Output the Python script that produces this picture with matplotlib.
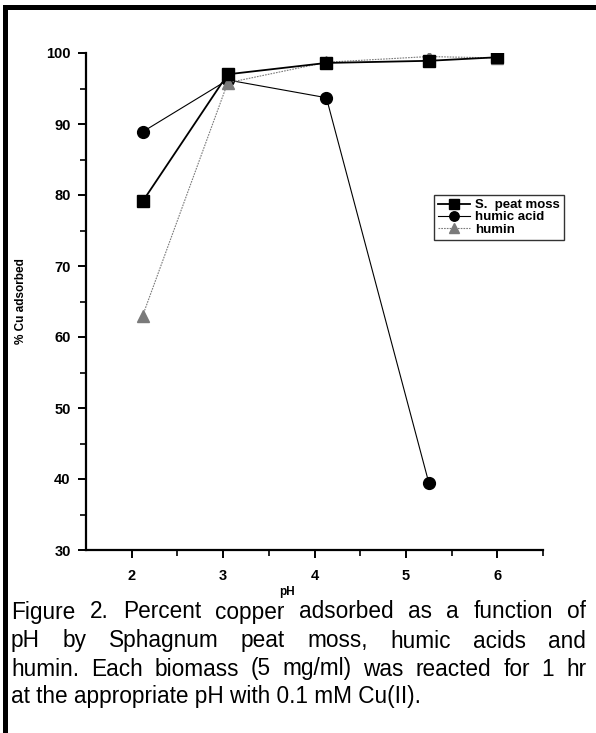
import numpy as np
import matplotlib
matplotlib.use('Agg')
import matplotlib.pyplot as plt
from matplotlib.patches import Rectangle

plt.rcParams['font.family'] = ['Liberation Sans', 'DejaVu Sans']

# ---- data ----
ph_peat = [2.12, 3.05, 4.13, 5.25, 6.0]
cu_peat = [79.1, 97.0, 98.6, 98.9, 99.4]

ph_humic = [2.12, 3.05, 4.13, 5.25]
cu_humic = [88.9, 96.2, 93.7, 39.5]

ph_humin = [2.12, 3.05, 4.13, 5.25, 6.0]
cu_humin = [63.0, 95.8, 98.7, 99.5, 99.3]

x_ticks = [2, 3, 4, 5, 6]
y_ticks = [30, 40, 50, 60, 70, 80, 90, 100]

caption = ["Figure 2. Percent copper adsorbed as a function of",
           "pH by Sphagnum peat moss, humic acids and",
           "humin. Each biomass (5 mg/ml) was reacted for 1 hr",
           "at the appropriate pH with 0.1 mM Cu(II)."]

W, H = 596, 733
fig = plt.figure(figsize=(W / 100, H / 100), dpi=100)
ax = fig.add_axes([86 / W, 1 - 550 / H, (543 - 86) / W, (550 - 53) / H])

gray = '#7a7a7a'
ax.plot(ph_humic, cu_humic, color='black', lw=0.8, marker='o', ms=8.5,
        mfc='black', mec='black', label='humic acid', zorder=2)
ax.plot(ph_humin, cu_humin, color=gray, lw=0.8, ls=(0, (1.5, 1)), marker='^',
        ms=8.5, mfc=gray, mec=gray, label='humin', zorder=3)
ax.plot(ph_peat, cu_peat, color='black', lw=1.3, marker='s', ms=8.5,
        mfc='black', mec='black', label='S.  peat moss', zorder=4)

ax.set_xlim(1.5, 6.5)
ax.set_ylim(30, 100)
ax.set_xticks(x_ticks)
ax.set_xticks(np.arange(2.5, 6.6, 1.0), minor=True)
ax.set_yticks(y_ticks)
ax.set_yticks(np.arange(35, 100, 10), minor=True)
for s in ['top', 'right']:
    ax.spines[s].set_visible(False)
for s in ['left', 'bottom']:
    ax.spines[s].set_linewidth(1.6)
ax.tick_params(axis='both', which='major', length=6, width=1.4, labelsize=10.5)
ax.tick_params(axis='both', which='minor', length=4, width=1.2)
ax.tick_params(axis='x', pad=8)
ax.tick_params(axis='y', pad=5)
for lab in ax.get_xticklabels() + ax.get_yticklabels():
    lab.set_fontweight('bold')

ax.set_xlabel('pH', fontsize=8.5, fontweight='bold')
ax.xaxis.set_label_coords((287 - 86) / 457, -36 / 497)
ax.set_ylabel('% Cu adsorbed', fontsize=8.5, fontweight='bold', labelpad=14)

h, l = ax.get_legend_handles_labels()
order = [2, 0, 1]
leg = fig.legend([h[i] for i in order], [l[i] for i in order], loc='upper left',
                 bbox_to_anchor=(434 / W, 1 - 195 / H), frameon=True, fancybox=False,
                 edgecolor='black', prop={'size': 9.5, 'weight': 'bold'},
                 handlelength=2.4, handletextpad=0.4, labelspacing=0.0,
                 borderpad=0.3, borderaxespad=0, markerscale=0.8)
leg.get_frame().set_linewidth(1.0)

# ---- border ----
fig.add_artist(Rectangle((3 / W, 0), 5 / W, 1 - 5 / H, transform=fig.transFigure,
                         color='black', lw=0))
fig.add_artist(Rectangle((3 / W, 1 - 10 / H), 1, 5 / H, transform=fig.transFigure,
                         color='black', lw=0))

# ---- caption (justified) ----
fig.canvas.draw()
r = fig.canvas.get_renderer()
left_px, right_px = 11, 586
fs = 16.3
line_y = [612, 641, 669, 697]
for i, line in enumerate(caption):
    words = line.split(' ')
    y = 1 - line_y[i] / H
    if i == len(caption) - 1:
        fig.text(left_px / W, y, line, fontsize=fs, va='center', ha='left')
        continue
    ts = [fig.text(0, y, w, fontsize=fs, va='center', ha='left') for w in words]
    widths = [t.get_window_extent(r).width for t in ts]
    gap = (right_px - left_px - sum(widths)) / (len(words) - 1)
    x = left_px
    for t, wd in zip(ts, widths):
        t.set_x(x / W)
        x += wd + gap

fig.savefig('out.png', dpi=100)
